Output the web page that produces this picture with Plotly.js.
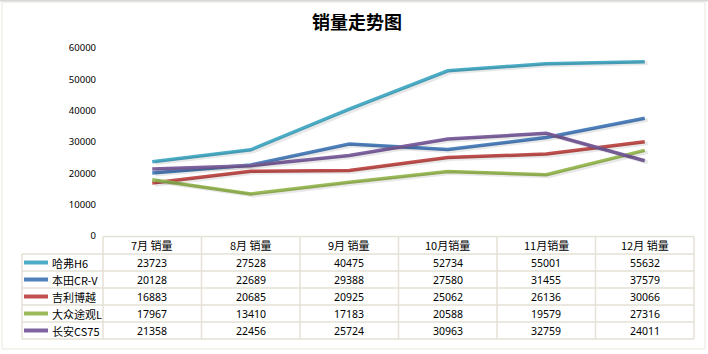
<!DOCTYPE html>
<html>
<head>
<meta charset="utf-8">
<script src="https://cdn.plot.ly/plotly-3.0.1.min.js"></script>
<style>html,body{margin:0;padding:0;background:#fff;}#chart{width:708px;height:354px;}</style>
</head>
<body>
<div id="chart"></div>
<script>
const months = ["7月 销量", "8月 销量", "9月 销量", "10月销量", "11月销量", "12月 销量"];
const seriesNames = ["哈弗H6", "本田CR-V", "吉利博越", "大众途观L", "长安CS75"];
const havalH6 = [23723, 27528, 40475, 52734, 55001, 55632];
const hondaCRV = [20128, 22689, 29388, 27580, 31455, 37579];
const geelyBoyue = [16883, 20685, 20925, 25062, 26136, 30066];
const vwTiguanL = [17967, 13410, 17183, 20588, 19579, 27316];
const changanCS75 = [21358, 22456, 25724, 30963, 32759, 24011];
const yTicks = [0, 10000, 20000, 30000, 40000, 50000, 60000];

const seriesValues = [havalH6, hondaCRV, geelyBoyue, vwTiguanL, changanCS75];
const colors = ["#4BACC6", "#4F81BD", "#C0504D", "#9BBB59", "#8064A2"];

// layout geometry (pixels)
const W = 708, H = 354, L = 103, R = 14, T = 48, B = 118;
const PW = W - L - R, PH = H - T - B;
const px = x => (x - L) / PW;
const py = y => (H - B - y) / PH;

const traces = [];
// soft shadows
seriesValues.forEach((vals, i) => {
  traces.push({
    x: months.map((m, k) => k + 0.03), y: vals.map(v => v - 500), type: 'scatter', mode: 'lines',
    line: {color: 'rgba(0,0,0,0.09)', width: 4}, hoverinfo: 'skip', showlegend: false, xaxis: 'x2'
  });
});
seriesValues.forEach((vals, i) => {
  traces.push({
    x: months, y: vals, name: seriesNames[i], type: 'scatter', mode: 'lines',
    line: {color: colors[i], width: 3.5}, showlegend: false
  });
});

const gridColor = "#E4E1D6";
const shapes = [];
const annotations = [];
const rowH = 17;
const headTop = 236.5, headBot = 254;
const tableBot = headBot + rowH * seriesNames.length;
const colX = [];
for (let k = 0; k <= months.length; k++) colX.push(L + PW * k / months.length);

// chart border
shapes.push({type: 'rect', xref: 'paper', yref: 'paper', x0: px(2), x1: px(705), y0: py(2), y1: py(349),
  line: {color: "#E8E6DC", width: 1}, fillcolor: 'rgba(0,0,0,0)', layer: 'below'});
shapes.push({type: 'line', xref: 'paper', yref: 'paper', x0: px(0), x1: px(708), y0: py(0.5), y1: py(0.5),
  line: {color: "#D8D8D8", width: 2}});

// table horizontal lines
shapes.push({type: 'line', xref: 'paper', yref: 'paper', x0: px(L), x1: px(colX[colX.length - 1]), y0: py(headTop), y1: py(headTop), line: {color: gridColor, width: 1.5}});
for (let r = 0; r <= seriesNames.length; r++) {
  const yy = headBot + r * rowH;
  shapes.push({type: 'line', xref: 'paper', yref: 'paper', x0: px(22), x1: px(colX[colX.length - 1]), y0: py(yy), y1: py(yy), line: {color: gridColor, width: 1.5}});
}
// vertical lines
colX.forEach(x => {
  shapes.push({type: 'line', xref: 'paper', yref: 'paper', x0: px(x), x1: px(x), y0: py(headTop), y1: py(tableBot), line: {color: gridColor, width: 1.5}});
});
shapes.push({type: 'line', xref: 'paper', yref: 'paper', x0: px(22), x1: px(22), y0: py(headBot), y1: py(tableBot), line: {color: gridColor, width: 1.5}});

const cellFont = {family: "Noto Sans, Noto Sans CJK SC, sans-serif", size: 10.5, color: "#000"};
const cjkFont = {family: "Noto Sans CJK SC, sans-serif", size: 11, color: "#000"};
months.forEach((m, k) => {
  annotations.push({xref: 'x', yref: 'paper', x: k, y: py((headTop + headBot) / 2), text: m, showarrow: false,
    xanchor: 'center', yanchor: 'middle', font: cjkFont});
});
seriesNames.forEach((n, r) => {
  const cy = headBot + r * rowH + rowH / 2;
  shapes.push({type: 'line', xref: 'paper', yref: 'paper', x0: px(24), x1: px(48), y0: py(cy), y1: py(cy), line: {color: colors[r], width: 4}});
  annotations.push({xref: 'paper', yref: 'paper', x: px(50), y: py(cy), text: n, showarrow: false,
    xanchor: 'left', yanchor: 'middle', font: cjkFont});
  seriesValues[r].forEach((v, k) => {
    annotations.push({xref: 'x', yref: 'paper', x: k, y: py(cy), text: String(v), showarrow: false,
      xanchor: 'center', yanchor: 'middle', font: cellFont});
  });
});

const layout = {
  width: W, height: H,
  margin: {l: L, r: R, t: T, b: B, pad: 0},
  paper_bgcolor: '#fff', plot_bgcolor: '#fff',
  title: {text: "<b>销量走势图</b>", x: 357 / W, xref: 'container', xanchor: 'center', y: 1 - 23 / H, yref: 'container', yanchor: 'middle',
    font: {family: "Noto Sans CJK SC, sans-serif", size: 18, color: "#000"}},
  xaxis: {type: 'category', categoryarray: months, range: [-0.5, 5.5], showgrid: false, zeroline: false,
    showline: false, showticklabels: false, ticks: '', fixedrange: true},
  xaxis2: {overlaying: 'x', range: [-0.5, 5.5], visible: false, fixedrange: true},
  yaxis: {range: [0, 60000], tickvals: yTicks, ticktext: yTicks.map(String), showgrid: false, zeroline: false,
    showline: false, ticks: '', ticklabelstandoff: 6,
    tickfont: {family: "Noto Sans, sans-serif", size: 9.5, color: "#000"}, fixedrange: true},
  shapes: shapes, annotations: annotations, showlegend: false
};
Plotly.newPlot('chart', traces, layout, {displayModeBar: false, staticPlot: true});
</script>
</body>
</html>
